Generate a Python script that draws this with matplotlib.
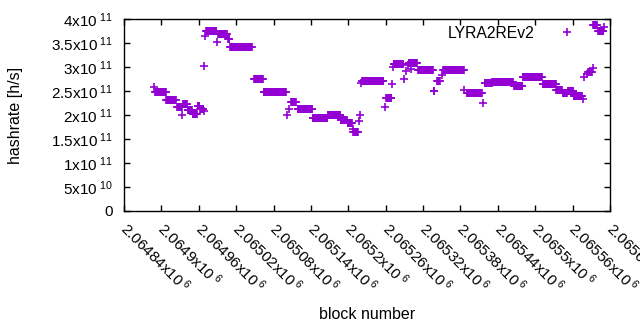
import numpy as np
import matplotlib
matplotlib.use("Agg")
import matplotlib.pyplot as plt
import matplotlib.transforms as mtransforms
from matplotlib.ticker import FixedLocator, FuncFormatter

# runs of blocks that share the same hashrate: first block, last block, value
run_start = [2064890, 2064908, 2064925, 2064935, 2064942, 2064950, 2064958, 2064962,
             2064972, 2064991, 2065007, 2065010, 2065049, 2065064, 2065108, 2065119,
             2065143, 2065167, 2065188, 2065199, 2065208, 2065222, 2065261, 2065273,
             2065297, 2065312, 2065337, 2065343, 2065352, 2065390, 2065419, 2065431,
             2065466, 2065480, 2065512, 2065534, 2065544, 2065552, 2065562, 2065585,
             2065593, 2065601]
run_end = [2064907, 2064923, 2064933, 2064941, 2064949, 2064957, 2064961, 2064967,
           2064988, 2065005, 2065009, 2065045, 2065063, 2065100, 2065116, 2065142,
           2065166, 2065187, 2065198, 2065206, 2065215, 2065256, 2065269, 2065288,
           2065310, 2065336, 2065338, 2065347, 2065385, 2065414, 2065430, 2065464,
           2065479, 2065511, 2065533, 2065543, 2065551, 2065561, 2065575, 2065591,
           2065599, 2065609]
run_value = [2.47e11, 2.31e11, 2.17e11, 2.22e11, 2.10e11, 2.02e11, 2.18e11, 2.12e11,
             3.76e11, 3.68e11, 3.58e11, 3.41e11, 2.74e11, 2.47e11, 2.27e11, 2.125e11,
             1.94e11, 2.01e11, 1.90e11, 1.83e11, 1.65e11, 2.71e11, 2.35e11, 3.06e11,
             3.09e11, 2.93e11, 2.50e11, 2.71e11, 2.94e11, 2.45e11, 2.67e11, 2.69e11,
             2.60e11, 2.79e11, 2.64e11, 2.52e11, 2.46e11, 2.50e11, 2.40e11, 2.90e11,
             3.875e11, 3.76e11]

# isolated blocks
single_block = [2064888, 2064933, 2064968, 2064969, 2064970, 2064989, 2065102, 2065105,
                2065207, 2065217, 2065219, 2065220, 2065259, 2065270, 2065272, 2065289,
                2065293, 2065296, 2065301, 2065350, 2065386, 2065416, 2065577, 2065578,
                2065583, 2065592, 2065610]
single_value = [2.58e11, 1.99e11, 2.09e11, 3.03e11, 3.65e11, 3.53e11, 2.01e11, 2.12e11,
                1.70e11, 1.88e11, 2.01e11, 2.67e11, 2.16e11, 2.65e11, 2.99e11, 2.76e11,
                2.92e11, 3.04e11, 2.95e11, 2.83e11, 2.52e11, 2.26e11, 2.33e11, 2.80e11,
                2.85e11, 2.97e11, 3.84e11]

x_ticks = [2064840 + 60 * i for i in range(14)]
y_ticks = [0, 5e10, 1e11, 1.5e11, 2e11, 2.5e11, 3e11, 3.5e11, 4e11]

blocks = list(single_block)
rates = list(single_value)
for s, e, v in zip(run_start, run_end, run_value):
    for b in range(s, e + 1):
        blocks.append(b)
        rates.append(v)

plt.rcParams['font.family'] = ['Liberation Sans', 'DejaVu Sans']
plt.rcParams['mathtext.fontset'] = 'custom'
plt.rcParams['mathtext.rm'] = 'Liberation Sans'
plt.rcParams['mathtext.it'] = 'Liberation Sans'

fig = plt.figure(figsize=(6.4, 3.3), dpi=100)
ax = fig.add_axes([124 / 640, 1 - 211 / 330, 486 / 640, 192 / 330])

ax.plot(blocks, rates, linestyle='none', marker='+', ms=5.5, mew=1.2,
        color='#9400d3', label='LYRA2REv2')

ax.set_xlim(2064840, 2065620)
ax.set_ylim(0, 4e11)


def yfmt(v, pos):
    if v == 0:
        return '0'
    e = int(np.floor(np.log10(v)))
    m = v / 10 ** e
    return ('%g' % m) + 'x10$^{\\ %d}$' % e


def xfmt(v, pos):
    m = v / 1e6
    return ('%g' % round(m, 5)) + 'x10$^{\\ 6}$'


ax.yaxis.set_major_locator(FixedLocator(y_ticks))
ax.yaxis.set_major_formatter(FuncFormatter(yfmt))
ax.xaxis.set_major_locator(FixedLocator(x_ticks))
ax.xaxis.set_major_formatter(FuncFormatter(xfmt))

ax.tick_params(direction='in', length=4, width=1, top=True, right=True,
               labelsize=11)
ax.tick_params(axis='y', pad=8)
ax.tick_params(axis='x', pad=6)
shift = mtransforms.ScaledTranslation(6 / 100, 0, fig.dpi_scale_trans)
for lab in ax.get_xticklabels():
    lab.set_rotation(-45)
    lab.set_ha('left')
    lab.set_va('top')
    lab.set_rotation_mode('anchor')
    lab.set_transform(lab.get_transform() + shift)
for sp in ax.spines.values():
    sp.set_linewidth(1)

ax.set_xlabel('block number', fontsize=11.5)
ax.set_ylabel('hashrate [h/s]', fontsize=11.5)
ax.xaxis.set_label_coords(0.5, -0.5)
ax.yaxis.set_label_coords(-0.208, 0.5)

ax.legend(loc='upper right', markerfirst=False, frameon=False, fontsize=11.3,
          handlelength=1.5, handletextpad=1.3, borderaxespad=0.3,
          bbox_to_anchor=(0.958, 1.022))

fig.savefig('out.png', dpi=100)
